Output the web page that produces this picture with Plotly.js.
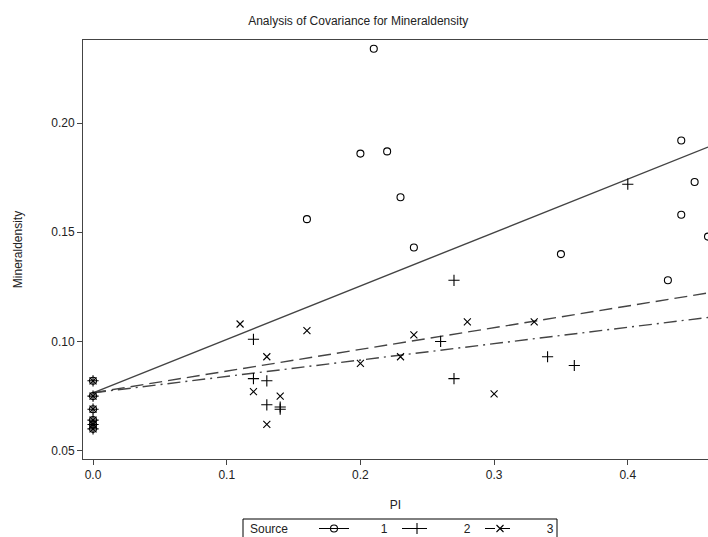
<!DOCTYPE html>
<html>
<head>
<meta charset="utf-8">
<script src="https://cdn.plot.ly/plotly-3.0.1.min.js"></script>
<style>html,body{margin:0;padding:0;background:#fff;}#chart{width:708px;height:537px;}</style>
</head>
<body>
<div id="chart"></div>
<script>
// Source 1 (circles)
const pi1 = [0, 0, 0, 0, 0, 0, 0.21, 0.20, 0.22, 0.23, 0.16, 0.24, 0.35, 0.44, 0.45, 0.44, 0.46, 0.43];
const md1 = [0.082, 0.075, 0.069, 0.064, 0.062, 0.060, 0.234, 0.186, 0.187, 0.166, 0.156, 0.143, 0.140, 0.192, 0.173, 0.158, 0.148, 0.128];
// Source 2 (plus)
const pi2 = [0, 0, 0, 0, 0, 0, 0.12, 0.12, 0.13, 0.13, 0.14, 0.14, 0.27, 0.40, 0.26, 0.34, 0.36, 0.27];
const md2 = [0.082, 0.075, 0.069, 0.064, 0.062, 0.060, 0.101, 0.083, 0.082, 0.071, 0.070, 0.069, 0.128, 0.172, 0.100, 0.093, 0.089, 0.083];
// Source 3 (x)
const pi3 = [0, 0, 0, 0, 0, 0, 0.11, 0.16, 0.13, 0.12, 0.14, 0.13, 0.24, 0.28, 0.33, 0.23, 0.30, 0.20];
const md3 = [0.082, 0.075, 0.069, 0.064, 0.062, 0.060, 0.108, 0.105, 0.093, 0.077, 0.075, 0.062, 0.103, 0.109, 0.109, 0.093, 0.076, 0.090];
// Fitted lines
const fitX = [0, 0.46];
const fit1 = [0.0765, 0.189];
const fit2 = [0.0765, 0.1222];
const fit3 = [0.0765, 0.111];
const sources = ['1', '2', '3'];
const legendTitle = 'Source';
const xTicks = [0, 0.1, 0.2, 0.3, 0.4];
const yTicks = [0.05, 0.10, 0.15, 0.20];

const ink = '#000';
const lineCol = '#444';
const dashes = ['solid', '13px,6px', '13px,5px,2px,5px'];
const symbols = ['circle-open', 'cross-thin-open', 'x-thin-open'];
const sizes = [7, 8, 7];
const pis = [pi1, pi2, pi3];
const mds = [md1, md2, md3];
const fits = [fit1, fit2, fit3];
const pad = '\u00a0'.repeat(8);

const traces = [];
for (let i = 0; i < 3; i++) {
  traces.push({
    x: fitX, y: fits[i], mode: 'lines', showlegend: false, hoverinfo: 'skip',
    line: {color: lineCol, width: 1.4, dash: dashes[i]}
  });
}
for (let i = 0; i < 3; i++) {
  traces.push({
    x: pis[i], y: mds[i], mode: 'markers', showlegend: false,
    marker: {symbol: symbols[i], size: sizes[i], color: ink, line: {color: ink, width: 1.1}}
  });
}
for (let i = 0; i < 3; i++) {
  traces.push({
    x: [null], y: [null], mode: 'lines+markers', name: pad + sources[i], showlegend: true,
    line: {color: ink, width: 1, dash: i === 0 ? 'solid' : '10px,5px'},
    marker: {symbol: symbols[i], size: sizes[i], color: ink, line: {color: ink, width: 1.1}}
  });
}

const font = {family: 'Liberation Sans, Arial, sans-serif', size: 12, color: '#222'};
const px2x = p => (p - 83) / 625;
const px2y = p => (459 - p) / 419;
const layout = {
  width: 708, height: 537,
  margin: {l: 83, r: 0, t: 40, b: 78},
  paper_bgcolor: '#fff', plot_bgcolor: '#fff',
  font: font,
  title: {text: 'Analysis of Covariance for Mineraldensity', font: {family: font.family, size: 12, color: '#222'},
          xref: 'container', x: 0.506, yref: 'container', y: 0.962, yanchor: 'middle', xanchor: 'center'},
  xaxis: {
    range: [-0.0075, 0.46], tickvals: xTicks, tickformat: '.1f',
    showgrid: false, zeroline: false, showline: true, linecolor: '#444', linewidth: 1, mirror: true,
    ticks: 'outside', ticklen: 5, tickcolor: '#444', tickfont: font,
    title: {text: 'PI', font: font, standoff: 19}
  },
  yaxis: {
    range: [0.0462, 0.238], tickvals: yTicks, tickformat: '.2f',
    showgrid: false, zeroline: false, showline: true, linecolor: '#444', linewidth: 1,
    ticks: 'outside', ticklen: 5, tickcolor: '#444', tickfont: font,
    title: {text: 'Mineraldensity', font: font, standoff: 26}
  },
  legend: {
    orientation: 'h', xref: 'container', yref: 'container',
    x: 314 / 708, xanchor: 'left', y: 1 - 514 / 537, yanchor: 'top',
    bgcolor: 'rgba(0,0,0,0)', borderwidth: 0,
    font: font, entrywidth: 38, entrywidthmode: 'pixels', tracegroupgap: 0
  },
  shapes: [{
    type: 'rect', xref: 'paper', yref: 'paper', layer: 'below',
    x0: px2x(243), x1: px2x(557), y0: px2y(519), y1: px2y(548),
    line: {color: '#000', width: 1}, fillcolor: '#fff'
  }],
  annotations: [{
    text: legendTitle, xref: 'paper', yref: 'paper', x: px2x(248), y: px2y(529),
    xanchor: 'left', yanchor: 'middle', showarrow: false, font: font
  }]
};
Plotly.newPlot('chart', traces, layout, {displayModeBar: false, staticPlot: true});
</script>
</body>
</html>
